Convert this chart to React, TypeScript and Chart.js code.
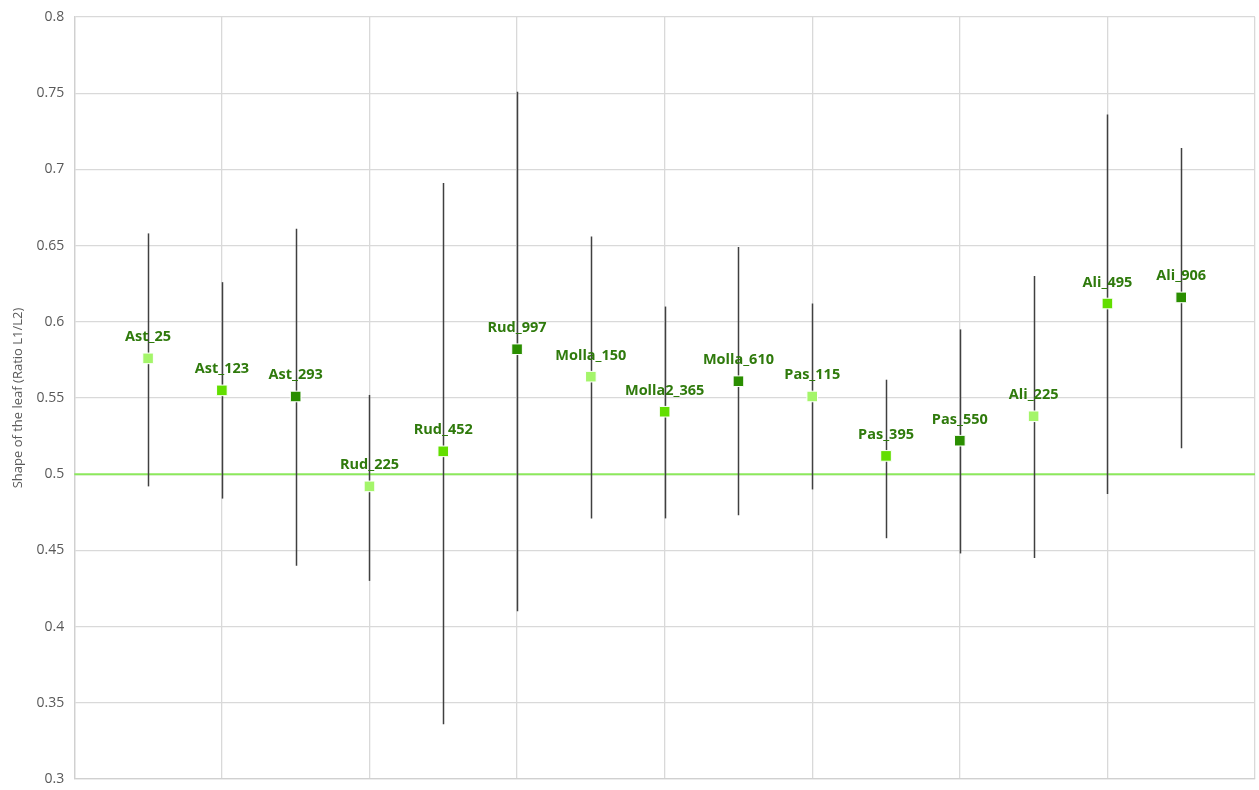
import React, { useEffect, useRef } from "react";
import { Chart, registerables } from "chart.js";

Chart.register(...registerables);

const labels = [
  "Ast_25", "Ast_123", "Ast_293", "Rud_225", "Rud_452", "Rud_997", "Molla_150",
  "Molla2_365", "Molla_610", "Pas_115", "Pas_395", "Pas_550", "Ali_225", "Ali_495", "Ali_906",
];
const positions = [1, 2, 3, 4, 5, 6, 7, 8, 9, 10, 11, 12, 13, 14, 15];
const means = [0.576, 0.555, 0.551, 0.492, 0.515, 0.582, 0.564, 0.541, 0.561, 0.551, 0.512, 0.522, 0.538, 0.612, 0.616];
const highs = [0.658, 0.626, 0.661, 0.552, 0.691, 0.751, 0.656, 0.610, 0.649, 0.612, 0.562, 0.595, 0.630, 0.736, 0.714];
const lows = [0.492, 0.484, 0.440, 0.430, 0.336, 0.410, 0.471, 0.471, 0.473, 0.490, 0.458, 0.448, 0.445, 0.487, 0.517];
const colorGroups = ["light", "bright", "dark", "light", "bright", "dark", "light", "bright", "dark", "light", "bright", "dark", "light", "bright", "dark"];
const threshold = 0.5;

const palette: Record<string, string> = {
  light: "#a4f56a",
  bright: "#62de00",
  dark: "#2a8e00",
};

export default function App() {
  const ref = useRef<HTMLCanvasElement | null>(null);

  useEffect(() => {
    document.body.style.margin = "0";
    const canvas = ref.current;
    if (!canvas) return;

    const overlay = {
      id: "overlay",
      beforeDatasetsDraw(chart: any) {
        const { ctx, scales, chartArea } = chart;
        const xs = scales.x;
        const ys = scales.y;
        ctx.save();
        ctx.strokeStyle = "#8ce85c";
        ctx.lineWidth = 2;
        ctx.beginPath();
        const ty = ys.getPixelForValue(threshold);
        ctx.moveTo(chartArea.left, ty);
        ctx.lineTo(chartArea.right, ty);
        ctx.stroke();
        ctx.strokeStyle = "#404040";
        ctx.lineWidth = 1.5;
        positions.forEach((p, i) => {
          const x = Math.round(xs.getPixelForValue(p)) + 0.5;
          ctx.beginPath();
          ctx.moveTo(x, ys.getPixelForValue(highs[i]));
          ctx.lineTo(x, ys.getPixelForValue(lows[i]));
          ctx.stroke();
        });
        ctx.restore();
      },
      afterDatasetsDraw(chart: any) {
        const { ctx, scales } = chart;
        const xs = scales.x;
        const ys = scales.y;
        ctx.save();
        ctx.font = "bold 14.5px 'Open Sans'";
        ctx.fillStyle = "#2f7a0c";
        ctx.textAlign = "center";
        ctx.textBaseline = "alphabetic";
        positions.forEach((p, i) => {
          const x = xs.getPixelForValue(p);
          const y = ys.getPixelForValue(means[i]);
          ctx.fillText(labels[i], x, y - 17);
        });
        ctx.restore();
      },
    };

    const chart = new Chart(canvas, {
      type: "scatter",
      data: {
        datasets: [
          {
            label: "Shape",
            data: positions.map((p, i) => ({ x: p, y: means[i] })),
            pointStyle: "rect",
            pointRadius: 7.5,
            pointBackgroundColor: colorGroups.map((g) => palette[g]),
            pointBorderColor: "#ffffff",
            pointBorderWidth: 1,
          },
        ],
      },
      options: {
        responsive: false,
        animation: false,
        layout: { autoPadding: false, padding: { top: 17, right: 4, bottom: 11, left: 10 } },
        plugins: {
          legend: { display: false },
          tooltip: { enabled: false },
        },
        scales: {
          x: {
            type: "linear",
            min: 0,
            max: 16,
            ticks: { display: false, stepSize: 2 },
            grid: { color: "#d9d9d9", lineWidth: 1.3, drawTicks: false },
            border: { color: "#d0d0d0", width: 1.3 },
          },
          y: {
            min: 0.3,
            max: 0.8,
            ticks: {
              stepSize: 0.05,
              color: "#595959",
              font: { family: "'Open Sans'", size: 14, lineHeight: 0.1 },
              padding: 10,
              callback: (v: any) => String(Math.round(Number(v) * 100) / 100),
            },
            grid: { color: "#d9d9d9", lineWidth: 1.3, drawTicks: false },
            border: { color: "#d0d0d0", width: 1.3 },
            title: {
              display: true,
              text: "Shape of the leaf (Ratio L1/L2)",
              color: "#595959",
              font: { family: "'Open Sans'", size: 13 },
              padding: { top: 0, bottom: 1 },
            },
          },
        },
      },
      plugins: [overlay],
    });

    return () => chart.destroy();
  }, []);

  return (
    <div style={{ position: "absolute", left: 0, top: 0, width: 1259, height: 790 }}>
      <canvas ref={ref} width={1259} height={790} style={{ display: "block" }} />
    </div>
  );
}
